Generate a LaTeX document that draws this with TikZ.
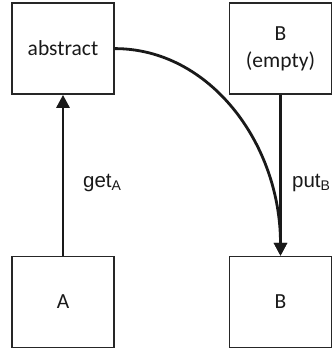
\documentclass[tikz,border=0pt]{standalone}
\usepackage{fontspec}
\setmainfont{Carlito}
\newfontfamily\labelfont{Liberation Sans}
\usetikzlibrary{arrows.meta}
\begin{document}
\begin{tikzpicture}[x=1pt,y=-1pt,
  box/.style={draw=black!85, line width=1.5pt, minimum width=102pt, minimum height=91pt,
    inner sep=0pt, align=center, font=\fontsize{21.5}{27}\selectfont, text=black!90},
  flow/.style={line width=2.8pt, black!90, -{Triangle[width=13pt,length=13pt]}},
  lbl/.style={font=\labelfont\fontsize{20.5}{22}\selectfont, text=black!90, anchor=west, inner sep=0pt}]
\useasboundingbox (0,0) rectangle (332,349);
\node[box] (abs) at (63,48.6) {abstract};
\node[box] (be) at (280.5,48.6) {B\\(empty)};
\node[box] (a) at (63,302) {A};
\node[box] (b) at (280.5,302) {B};
% get and put
\draw[flow] (a.north) -- (abs.south);
\draw[flow] (be.south) -- (b.north);
\draw[flow] (abs.east) .. controls +(95,0) and +(0,-112) .. (b.north);
\node[lbl] (get) at (83,183) {get\textsubscript{\fontsize{14}{14}\selectfont A}};
\node[lbl] (put) at (292,183) {put\textsubscript{\fontsize{14}{14}\selectfont B}};
\end{tikzpicture}
\end{document}
